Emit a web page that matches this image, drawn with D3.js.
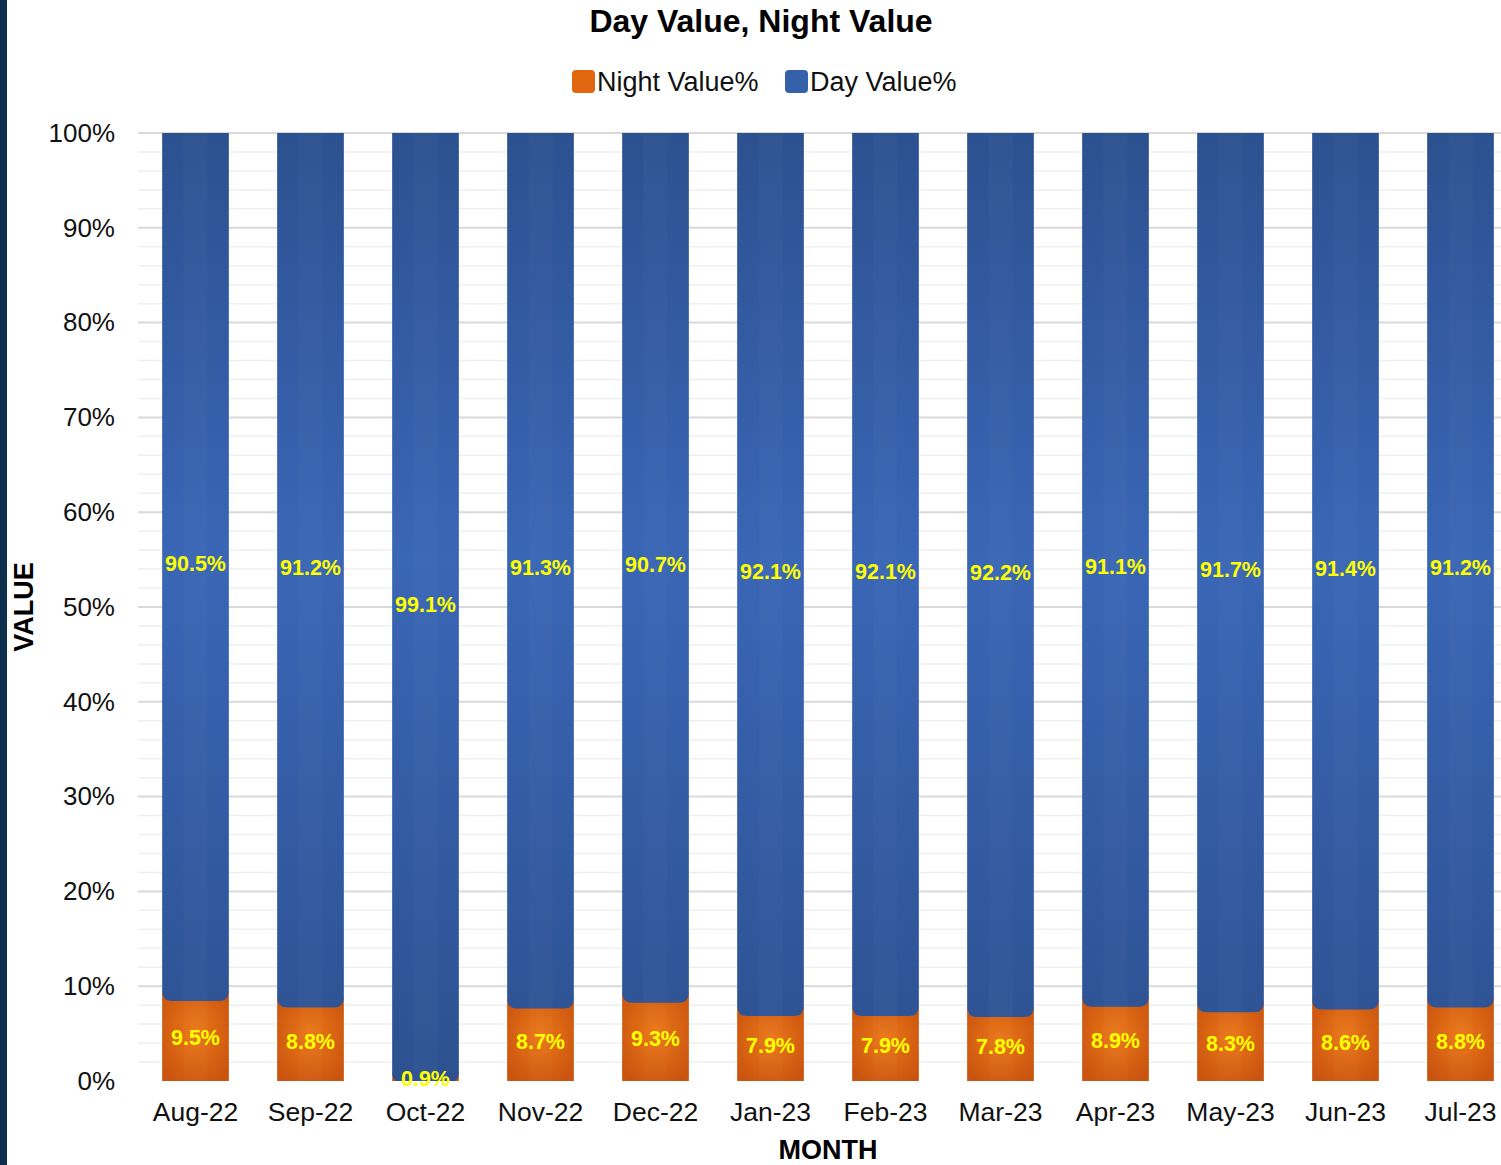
<!DOCTYPE html>
<html>
<head>
<meta charset="utf-8">
<script src="https://cdn.jsdelivr.net/npm/d3@7"></script>
<style>
  body { margin: 0; background: #fff; }
  svg text { font-family: "Liberation Sans", Arial, sans-serif; }
</style>
</head>
<body>
<svg id="chart"></svg>
<script>
var months = ["Aug-22", "Sep-22", "Oct-22", "Nov-22", "Dec-22", "Jan-23", "Feb-23", "Mar-23", "Apr-23", "May-23", "Jun-23", "Jul-23"];
var nightValues = [9.5, 8.8, 0.9, 8.7, 9.3, 7.9, 7.9, 7.8, 8.9, 8.3, 8.6, 8.8];
var dayValues = [90.5, 91.2, 99.1, 91.3, 90.7, 92.1, 92.1, 92.2, 91.1, 91.7, 91.4, 91.2];
var yTicks = [0, 10, 20, 30, 40, 50, 60, 70, 80, 90, 100];

var chart = {
    width: 1501,
    height: 1165,
    left: 138,
    right: 1518,
    top: 133,
    bottom: 1081,
};

var svg = d3.select("#chart")
    .attr("width", chart.width)
    .attr("height", chart.height);

var defs = svg.append("defs");

// blue: darker at top and bottom, lighter in the middle
var blueGrad = defs.append("linearGradient")
    .attr("id", "blue-grad")
    .attr("gradientUnits", "userSpaceOnUse")
    .attr("x1", 0).attr("y1", chart.top)
    .attr("x2", 0).attr("y2", chart.bottom);
blueGrad.append("stop").attr("offset", "0%").attr("stop-color", "#2c5190");
blueGrad.append("stop").attr("offset", "45%").attr("stop-color", "#3a66b6");
blueGrad.append("stop").attr("offset", "100%").attr("stop-color", "#2c5190");

var orangeGrad = defs.append("radialGradient")
    .attr("id", "orange-grad")
    .attr("cx", "50%").attr("cy", "45%").attr("r", "65%");
orangeGrad.append("stop").attr("offset", "0%").attr("stop-color", "#ec7718");
orangeGrad.append("stop").attr("offset", "100%").attr("stop-color", "#c9540f");

var shadow = defs.append("filter").attr("id", "shadow")
    .attr("x", "-20%").attr("y", "-20%").attr("width", "140%").attr("height", "140%");
shadow.append("feDropShadow")
    .attr("dx", 2).attr("dy", 2).attr("stdDeviation", 1.2)
    .attr("flood-color", "#000").attr("flood-opacity", 0.3);

defs.append("clipPath").attr("id", "plot-clip")
    .append("rect")
        .attr("x", chart.left).attr("y", chart.top)
        .attr("width", chart.right - chart.left)
        .attr("height", chart.bottom - chart.top);

// dark strip on the left edge
svg.append("rect")
    .attr("x", 0).attr("y", 0)
    .attr("width", 7).attr("height", chart.height)
    .attr("fill", "#0e2e4d");

var x = d3.scaleBand()
    .domain(months)
    .range([chart.left, chart.right])
    .paddingInner(0.42)
    .paddingOuter(0.21);

var y = d3.scaleLinear()
    .domain([0, 100])
    .range([chart.bottom, chart.top]);

// grid: minor every 2%, major every 10%
var minor = d3.range(2, 100, 2).filter((d) => d % 10 != 0);
svg.append("g").selectAll("line")
    .data(minor)
    .enter().append("line")
        .attr("x1", chart.left).attr("x2", chart.width)
        .attr("y1", (d) => y(d)).attr("y2", (d) => y(d))
        .attr("stroke", "#efefef")
        .attr("stroke-width", 1.5);

svg.append("g").selectAll("line")
    .data(yTicks.slice(1))
    .enter().append("line")
        .attr("x1", chart.left).attr("x2", chart.width)
        .attr("y1", (d) => y(d)).attr("y2", (d) => y(d))
        .attr("stroke", "#d9d9d9")
        .attr("stroke-width", 2);

var r = 10;
var rows = months.map((m, i) => ({ month: m, night: nightValues[i], day: dayValues[i] }));

var bars = svg.append("g")
    .attr("clip-path", "url(#plot-clip)")
    .selectAll("g")
    .data(rows)
    .enter().append("g");

bars.append("rect")
    .attr("x", (d) => x(d.month))
    .attr("width", x.bandwidth())
    .attr("y", (d) => y(d.night))
    .attr("height", (d) => y(0) - y(d.night))
    .attr("fill", "url(#orange-grad)");

// day segment, its rounded bottom hangs a little over the night segment
bars.append("path")
    .attr("fill", "url(#blue-grad)")
    .attr("d", function(d) {
        var x0 = x(d.month), x1 = x0 + x.bandwidth();
        var t = y(d.night + d.day), b = y(d.night) + r;
        return "M" + x0 + "," + t + "H" + x1 + "V" + (b - r)
            + "Q" + x1 + "," + b + " " + (x1 - r) + "," + b
            + "H" + (x0 + r)
            + "Q" + x0 + "," + b + " " + x0 + "," + (b - r) + "Z";
    });

// faint inner band
bars.append("rect")
    .attr("x", (d) => x(d.month) + x.bandwidth() * 0.32)
    .attr("width", x.bandwidth() * 0.36)
    .attr("y", chart.top)
    .attr("height", chart.bottom - chart.top)
    .attr("fill", "#ffffff")
    .attr("opacity", 0.025);

var labels = svg.append("g").selectAll("g")
    .data(rows)
    .enter().append("g");

labels.append("text")
    .attr("x", (d) => x(d.month) + x.bandwidth() / 2)
    .attr("y", (d) => y(d.night + d.day / 2) + 2)
    .attr("dy", "0.35em")
    .attr("text-anchor", "middle")
    .attr("font-size", 21.5)
    .attr("font-weight", "bold")
    .attr("fill", "#ffff00")
    .text((d) => d.day.toFixed(1) + "%");

labels.append("text")
    .attr("x", (d) => x(d.month) + x.bandwidth() / 2)
    .attr("y", (d) => y(d.night / 2) + 2)
    .attr("dy", "0.35em")
    .attr("text-anchor", "middle")
    .attr("font-size", 21.5)
    .attr("font-weight", "bold")
    .attr("fill", "#ffff00")
    .text((d) => d.night.toFixed(1) + "%");

// axes
var yAxis = svg.append("g")
    .attr("transform", "translate(" + chart.left + ",0)")
    .call(d3.axisLeft(y).tickValues(yTicks).tickSize(0).tickPadding(23).tickFormat((d) => d + "%"));
yAxis.select(".domain").remove();
yAxis.selectAll("text").attr("font-size", 26).attr("fill", "#111");

var xAxis = svg.append("g")
    .attr("transform", "translate(0," + chart.bottom + ")")
    .call(d3.axisBottom(x).tickSize(0).tickPadding(21));
xAxis.select(".domain").remove();
xAxis.selectAll("text").attr("font-size", 26.5).attr("fill", "#111");

svg.append("line")
    .attr("x1", chart.left).attr("x2", chart.left)
    .attr("y1", chart.top).attr("y2", chart.bottom + 1.5)
    .attr("stroke", "#7f7f7f").attr("stroke-width", 3)
    .attr("filter", "url(#shadow)");
svg.append("line")
    .attr("x1", chart.left - 1.5).attr("x2", chart.width)
    .attr("y1", chart.bottom).attr("y2", chart.bottom)
    .attr("stroke", "#7f7f7f").attr("stroke-width", 3)
    .attr("filter", "url(#shadow)");

// titles
svg.append("text")
    .attr("x", 761).attr("y", 32)
    .attr("text-anchor", "middle")
    .attr("font-size", 32).attr("font-weight", "bold")
    .text("Day Value, Night Value");

svg.append("text")
    .attr("x", (chart.left + chart.right) / 2).attr("y", 1159)
    .attr("text-anchor", "middle")
    .attr("font-size", 27).attr("font-weight", "bold")
    .text("MONTH");

svg.append("text")
    .attr("transform", "translate(33," + (chart.top + chart.bottom) / 2 + ") rotate(-90)")
    .attr("text-anchor", "middle")
    .attr("font-size", 27).attr("font-weight", "bold")
    .text("VALUE");

// legend
var legend = [
    { name: "Night Value%", x: 572 },
    { name: "Day Value%", x: 785 },
];
var leg = svg.append("g").selectAll("g")
    .data(legend)
    .enter().append("g")
        .attr("transform", (d) => "translate(" + d.x + ",70)");
leg.append("rect")
    .attr("width", 23).attr("height", 23)
    .attr("rx", 4)
    .attr("fill", (d) => d.name.startsWith("Night") ? "#e2650f" : "#3560aa");
leg.append("text")
    .attr("x", 25).attr("y", 21)
    .attr("font-size", 27)
    .attr("fill", "#111")
    .text((d) => d.name);
</script>
</body>
</html>
